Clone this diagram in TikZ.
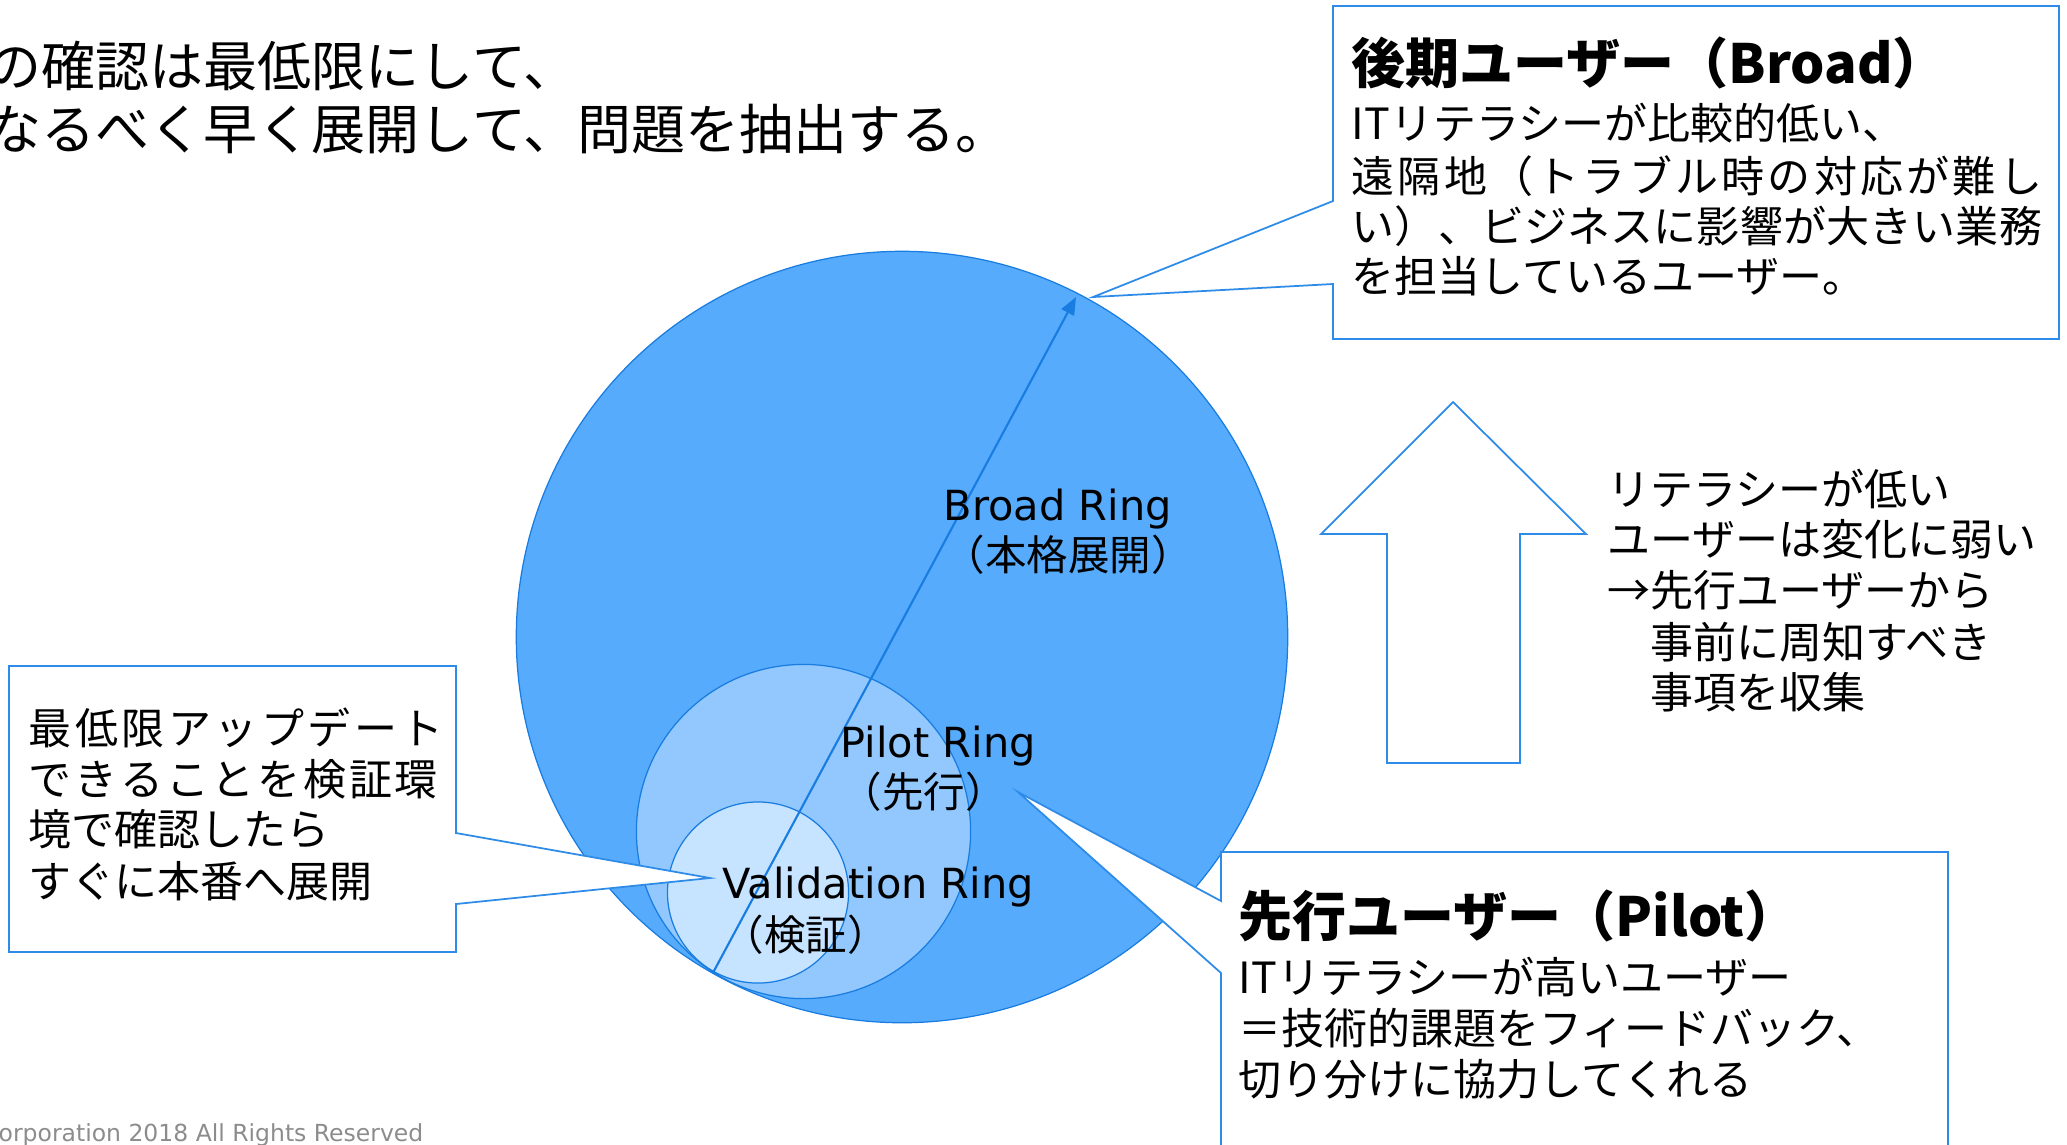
\documentclass[tikz,border=0pt]{standalone}
\usepackage{fontspec}
\setmainfont{Noto Sans CJK JP}
\newfontfamily\lat{DejaVu Sans}
\usetikzlibrary{arrows.meta}
\definecolor{bigfill}{RGB}{86,171,252}
\definecolor{pilotfill}{RGB}{146,200,254}
\definecolor{valfill}{RGB}{198,227,255}
\definecolor{ringline}{RGB}{24,124,224}
\definecolor{boxline}{RGB}{46,140,232}
\definecolor{copygray}{RGB}{140,140,140}
% spread characters of a line evenly (justified line)
\def\sprd#1#2\relax{#1\if\relax\detokenize{#2}\relax\else\hfill\sprd#2\relax\fi}
\newcommand\justline[2]{\hbox to #1{\sprd#2\relax}}
\begin{document}
\begin{tikzpicture}[x=0.01cm,y=-0.01cm,
  ring/.style={circle, draw=ringline, line width=0.35pt, inner sep=0pt},
  callout/.style={draw=boxline, fill=white, line width=0.5pt, line join=miter},
  jtxt/.style={anchor=base west, inner sep=0pt, font=\fontsize{12.23pt}{15pt}\selectfont},
  bigtxt/.style={anchor=base west, inner sep=0pt, font=\fontsize{15.36pt}{18pt}\selectfont},
  ttl/.style={anchor=base west, inner sep=0pt, font=\fontsize{15.36pt}{18pt}\selectfont\bfseries},
  ringlbl/.style={anchor=base west, inner sep=0pt, font=\fontsize{11.8pt}{14pt}\selectfont},
]
\useasboundingbox (0,0) rectangle (2067,1144);
\clip (0,0) rectangle (2067,1144);

% rings
\node[ring, fill=bigfill, minimum size=7.71cm] (broad) at (902,637) {};
\node[ring, fill=pilotfill, minimum size=3.34cm] (pilot) at (803.5,831.5) {};
\node[ring, fill=valfill, minimum size=1.81cm] (valid) at (758,892.5) {};
\coordinate (arrS) at (713,972.7);
\coordinate (arrE) at (1076,297);
\draw[ringline, line width=0.6pt, -{Triangle[length=5pt,width=4pt]}] (arrS) -- (arrE);

% ring labels
\node[ringlbl] (bl1) at (943,520) {\lat Broad Ring};
\node[ringlbl] (bl2) at (943,570) {（本格展開）};
\node[ringlbl] (pl1) at (840,757) {\lat Pilot Ring};
\node[ringlbl] (pl2) at (840,807) {（先行）};
\node[ringlbl] (vl1) at (722,898) {\lat Validation Ring};
\node[ringlbl] (vl2) at (722,950) {（検証）};

% callouts
\draw[callout] (1333,6) -- (2059,6) -- (2059,339) -- (1333,339) -- (1333,284) -- (1093,297) -- (1333,201) -- cycle;
\draw[callout] (9,666) -- (456,666) -- (456,833) -- (710,878) -- (456,904) -- (456,952) -- (9,952) -- cycle;
\draw[callout] (1221,852) -- (1948,852) -- (1948,1170) -- (1221,1170) -- (1221,973) -- (1018,792) -- (1221,901) -- cycle;

% up arrow
\draw[callout] (1453,402) -- (1586,534) -- (1520,534) -- (1520,763) -- (1387,763) -- (1387,534) -- (1321,534) -- cycle;

% top text
\node[bigtxt] (top1) at (-13,86.5) {の確認は最低限にして、};
\node[bigtxt] (top2) at (-13,149.5) {なるべく早く展開して、問題を抽出する。};

% broad box
\node[ttl] (bt) at (1351,83.5) {後期ユーザー（Broad）};
\node[jtxt] (b1) at (1351,139) {ITリテラシーが比較的低い、};
\node[jtxt] (b2) at (1351,192.5) {\justline{6.9cm}{遠隔地（トラブル時の対応が難し}};
\node[jtxt] (b3) at (1351,242.5) {\justline{6.9cm}{い）、ビジネスに影響が大きい業務}};
\node[jtxt] (b4) at (1351,292.5) {を担当しているユーザー。};

% validation box
\node[jtxt] (v1) at (28,744) {\justline{4.15cm}{最低限アップデート}};
\node[jtxt] (v2) at (28,795.5) {\justline{4.09cm}{できることを検証環}};
\node[jtxt] (v3) at (28,845.5) {境で確認したら};
\node[jtxt] (v4) at (28,897.5) {すぐに本番へ展開};

% free text
\node[jtxt] (f1) at (1607,505.5) {リテラシーが低い};
\node[jtxt] (f2) at (1607,555.5) {ユーザーは変化に弱い};
\node[jtxt] (f3) at (1607,606.5) {→先行ユーザーから};
\node[jtxt] (f4) at (1607,658) {　事前に周知すべき};
\node[jtxt] (f5) at (1607,708) {　事項を収集};

% pilot box
\node[ttl] (pt) at (1238,936.5) {先行ユーザー（Pilot）};
\node[jtxt] (p1) at (1238,993.5) {ITリテラシーが高いユーザー};
\node[jtxt] (p2) at (1238,1044) {＝技術的課題をフィードバック、};
\node[jtxt] (p3) at (1238,1095) {切り分けに協力してくれる};

% copyright
\node[anchor=base west, inner sep=0pt, text=copygray, font=\lat\fontsize{6.68pt}{8pt}\selectfont] (copy) at (-2,1141) {orporation 2018 All Rights Reserved};
\end{tikzpicture}
\end{document}
